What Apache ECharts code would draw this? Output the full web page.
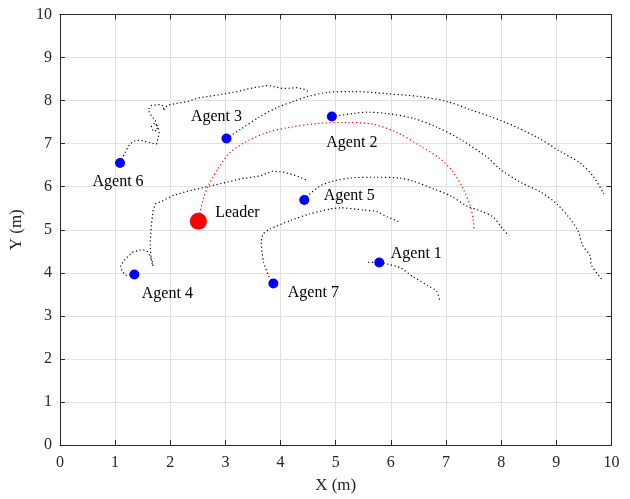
<!DOCTYPE html>
<html>
<head>
<meta charset="utf-8">
<script src="https://cdn.jsdelivr.net/npm/echarts@6/dist/echarts.min.js"></script>
<style>
  html, body { margin: 0; padding: 0; background: #fff; }
  #chart { width: 630px; height: 499px; }
</style>
</head>
<body>
<div id="chart"></div>
<script>
// agent positions (m)
var agentNames = ['Agent 1', 'Agent 2', 'Agent 3', 'Agent 4', 'Agent 5', 'Agent 6', 'Agent 7'];
var agentX = [5.79, 4.93, 3.02, 1.35, 4.43, 1.09, 3.87];
var agentY = [4.24, 7.63, 7.12, 3.96, 5.69, 6.55, 3.75];
var leaderPos = [2.51, 5.20];

// trajectories [x, y]
var leaderTraj = [[2.51,5.20],[2.54,5.42],[2.60,5.72],[2.69,6.02],[2.86,6.41],[3.09,6.80],[3.40,7.06],[3.76,7.26],[4.17,7.38],[4.69,7.47],[5.21,7.49],[5.68,7.45],[6.11,7.26],[6.54,6.94],[6.90,6.64],[7.13,6.34],[7.31,5.95],[7.44,5.55],[7.49,5.25],[7.51,4.98]];
var traj1 = [[5.59,4.24],[5.79,4.24],[5.98,4.19],[6.17,4.12],[6.40,3.91],[6.66,3.71],[6.83,3.57],[6.89,3.34]];
var traj2 = [[4.93,7.63],[5.32,7.70],[5.57,7.73],[5.93,7.70],[6.40,7.59],[6.84,7.38],[7.26,7.10],[7.74,6.69],[7.98,6.41],[8.34,6.11],[8.71,5.88],[9.01,5.60],[9.25,5.25],[9.39,4.98],[9.48,4.63],[9.61,4.40],[9.64,4.17],[9.84,3.82]];
var traj3 = [[3.02,7.12],[3.27,7.33],[3.63,7.63],[3.94,7.84],[4.23,7.98],[4.48,8.09],[4.85,8.19],[5.32,8.21],[5.93,8.16],[6.54,8.09],[7.02,7.98],[7.44,7.79],[8.03,7.52],[8.65,7.15],[9.07,6.82],[9.43,6.55],[9.68,6.22],[9.86,5.83]];
var traj4 = [[1.35,3.96],[1.19,3.94],[1.12,4.05],[1.10,4.17],[1.19,4.33],[1.33,4.49],[1.50,4.54],[1.59,4.49],[1.64,4.38],[1.69,4.21],[1.68,4.15],[1.66,4.28],[1.64,4.56],[1.64,4.75],[1.66,5.14],[1.69,5.44],[1.73,5.60],[1.86,5.67],[2.04,5.79],[2.27,5.88],[2.63,5.99],[2.88,6.06],[3.27,6.18],[3.63,6.25],[3.85,6.36],[4.05,6.34],[4.30,6.25],[4.48,6.15]];
var traj5 = [[4.43,5.69],[4.53,5.83],[4.72,6.02],[4.96,6.13],[5.26,6.20],[5.71,6.22],[6.17,6.20],[6.40,6.13],[6.77,5.95],[7.08,5.79],[7.38,5.55],[7.62,5.44],[7.85,5.30],[8.03,5.02],[8.14,4.86]];
var traj6 = [[1.09,6.55],[1.15,6.71],[1.24,6.94],[1.33,7.06],[1.46,7.08],[1.60,7.03],[1.75,6.99],[1.78,7.12],[1.80,7.26],[1.78,7.40],[1.71,7.47],[1.66,7.40],[1.69,7.29],[1.77,7.31],[1.73,7.54],[1.64,7.68],[1.60,7.79],[1.66,7.89],[1.82,7.91],[1.89,7.86],[1.87,7.77],[1.95,7.89],[2.09,7.93],[2.31,7.98],[2.54,8.07],[2.91,8.14],[3.22,8.21],[3.51,8.30],[3.78,8.35],[4.05,8.28],[4.30,8.30],[4.44,8.26],[4.53,8.19]];
var traj7 = [[3.87,3.75],[3.78,3.94],[3.69,4.26],[3.65,4.72],[3.69,4.91],[3.81,5.02],[4.17,5.21],[4.53,5.37],[4.90,5.48],[5.08,5.51],[5.50,5.46],[5.75,5.42],[5.93,5.30],[6.17,5.18]];
var axisTicks = [0, 1, 2, 3, 4, 5, 6, 7, 8, 9, 10];

// label offsets from dot centre (px)
var labelOffsets = [[37,-9],[20,26],[-10,-22],[33,19],[45,-4],[-2,19],[40,9]];

var serif = 'Liberation Serif';
var axisColor = '#262626';

function mainAxis(name, pos, gap, margin) {
    return {
        type: 'value',
        position: pos,
        min: axisTicks[0],
        max: axisTicks[axisTicks.length - 1],
        interval: 1,
        name: name,
        nameLocation: 'middle',
        nameGap: gap,
        nameTextStyle: { fontFamily: serif, fontSize: 17, color: axisColor },
        axisLine: { onZero: false, lineStyle: { color: axisColor, width: 1 } },
        axisTick: { inside: true, length: 5, lineStyle: { color: axisColor } },
        axisLabel: { fontFamily: serif, fontSize: 16, color: axisColor, margin: margin },
        splitLine: { show: true, lineStyle: { color: '#e0e0e0', width: 1 } }
    };
}
function boxAxis(pos) {
    return {
        type: 'value',
        position: pos,
        min: axisTicks[0],
        max: axisTicks[axisTicks.length - 1],
        interval: 1,
        axisLine: { onZero: false, lineStyle: { color: axisColor, width: 1 } },
        axisTick: { inside: true, length: 5, lineStyle: { color: axisColor } },
        axisLabel: { show: false },
        splitLine: { show: false }
    };
}

function trajSeries(data, color, smooth) {
    return {
        type: 'line',
        data: data,
        showSymbol: false,
        symbol: 'none',
        smooth: smooth,
        silent: true,
        z: 2,
        lineStyle: { color: color, width: 1.2, type: [1.2, 2.6] }
    };
}

var agentData = agentNames.map(function (n, i) {
    return {
        name: n,
        value: [agentX[i], agentY[i]],
        label: { offset: labelOffsets[i] }
    };
});

var chart = echarts.init(document.getElementById('chart'));
var option = {
    animation: false,
    backgroundColor: '#fff',
    grid: { left: 59.5, right: 18.5, top: 14.5, bottom: 51.5 },
    xAxis: [mainAxis('X (m)', 'bottom', 32, 10), boxAxis('top')],
    yAxis: [mainAxis('Y (m)', 'left', 30, 8), boxAxis('right')],
    series: [
        trajSeries(leaderTraj, '#ff0000', 0.3),
        trajSeries(traj1, '#000', 0.2),
        trajSeries(traj2, '#000', 0.3),
        trajSeries(traj3, '#000', 0.3),
        trajSeries(traj4, '#000', false),
        trajSeries(traj5, '#000', 0.3),
        trajSeries(traj6, '#000', false),
        trajSeries(traj7, '#000', 0.2),
        {
            type: 'scatter',
            data: agentData,
            symbolSize: 10,
            z: 5,
            itemStyle: { color: '#0000ff', opacity: 1 },
            label: {
                show: true,
                position: 'inside',
                formatter: '{b}',
                fontFamily: serif,
                fontSize: 16,
                color: '#000'
            }
        },
        {
            type: 'scatter',
            data: [{ name: 'Leader', value: leaderPos }],
            symbolSize: 17,
            z: 5,
            itemStyle: { color: '#ff0000', opacity: 1 },
            label: {
                show: true,
                position: 'inside',
                offset: [39, -8],
                formatter: '{b}',
                fontFamily: serif,
                fontSize: 16,
                color: '#000'
            }
        }
    ]
};
chart.setOption(option);
</script>
</body>
</html>
